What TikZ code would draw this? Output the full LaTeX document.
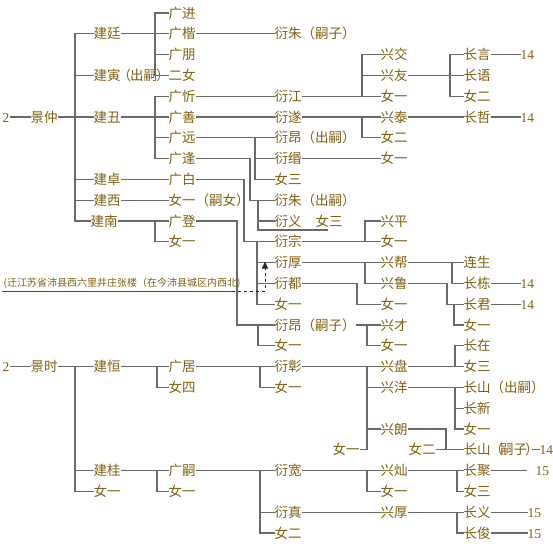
\documentclass[tikz,border=0pt]{standalone}
\usepackage{fontspec}
\setmainfont{Liberation Serif}
\newfontfamily\cjk{Noto Sans CJK SC}
\usetikzlibrary{arrows.meta}
\definecolor{txt}{RGB}{128,96,16}
\definecolor{lin}{RGB}{105,105,105}
\tikzset{
  t/.style={anchor=west, inner sep=0.5pt, text=txt, font=\cjk\fontsize{13.5}{14}\selectfont, text height=11.5pt, text depth=1.5pt},
  num/.style={anchor=west, inner sep=0.5pt, text=txt, font=\fontsize{13.5}{14}\selectfont, text height=11.5pt, text depth=1.5pt},
  notetxt/.style={anchor=west, inner sep=0.5pt, text=txt, font=\cjk\fontsize{10}{10}\selectfont},
  ln/.style={draw=lin, line width=1.1pt, line cap=rect},
  uline/.style={draw=black!70, line width=0.9pt},
  dashln/.style={draw=black!85, line width=1pt, dash pattern=on 3pt off 3pt},
}
\newcommand\barb[4]{% bar x, top node, bottom node, children
  \draw[ln] (#1,0 |- #2.west) -- (#1,0 |- #3.west);
  \foreach \c in {#4}{\draw[ln] (#1,0 |- \c.west) -- (\c.west);}
}
\newcommand\famb[5]{% parent, bar x, top, bottom, children
  \draw[ln] (#1.east) -- (#2,0 |- #1.east);
  \barb{#2}{#3}{#4}{#5}
}
\begin{document}
\begin{tikzpicture}[x=1pt, y=-20.8pt, yshift=-13pt]
\useasboundingbox (0,-0.625) rectangle (553,25.481);
% ---------- upper family ----------
\node[num] (two1) at (2,5) {2};
\node[t] (jz) at (30,5) {景仲};
\node[t] (jt) at (93,1) {建廷};
\node[t] (jy) at (93,3) {建寅\kern-3pt（\kern-1pt出嗣\kern-1pt）\kern-9pt};
\node[t] (jc) at (93,5) {建丑};
\node[t] (jzh) at (93,8) {建卓};
\node[t] (jx) at (93,9) {建西};
\node[t] (jn) at (90,10) {建南};
\node[t] (gj) at (168,0) {广进};
\node[t] (gk) at (168,1) {广楷};
\node[t] (gp) at (168,2) {广朋};
\node[t] (en) at (168,3) {二女};
\node[t] (gx) at (168,4) {广忻};
\node[t] (gs) at (168,5) {广善};
\node[t] (gy) at (168,6) {广远};
\node[t] (gf) at (168,7) {广逢};
\node[t] (gb) at (168,8) {广白};
\node[t] (sx) at (168,9) {女一（嗣女）};
\node[t] (gd) at (168,10) {广登};
\node[t] (gdn) at (168,11) {女一};
\node[t] (yz1) at (274,1) {衍朱（嗣子）};
\node[t] (yj) at (274,4) {衍江};
\node[t] (ys) at (274,5) {衍遂};
\node[t] (ya1) at (274,6) {衍昂（出嗣）};
\node[t] (ym) at (274,7) {衍缗};
\node[t] (yn3) at (274,8) {女三};
\node[t] (yz2) at (274,9) {衍朱（出嗣）};
\node[t] (yy) at (274,10) {衍义};
\node[t] (yyn) at (315,10) {女三};
\node[t] (yzo) at (274,11) {衍宗};
\node[t] (yh) at (274,12) {衍厚};
\node[t] (ydu) at (274,13) {衍都};
\node[t] (yn14) at (274,14) {女一};
\node[t] (ya2) at (274,15) {衍昂（嗣子）};
\node[t] (yn16) at (274,16) {女一};
\node[t] (xj) at (380,2) {兴交};
\node[t] (xy) at (380,3) {兴友};
\node[t] (xn4) at (380,4) {女一};
\node[t] (xt) at (380,5) {兴泰};
\node[t] (xn6) at (380,6) {女二};
\node[t] (xn7) at (380,7) {女一};
\node[t] (xp) at (380,10) {兴平};
\node[t] (xn11) at (380,11) {女一};
\node[t] (xb) at (380,12) {兴帮};
\node[t] (xl) at (380,13) {兴鲁};
\node[t] (xn14) at (380,14) {女一};
\node[t] (xc) at (380,15) {兴才};
\node[t] (xn16) at (380,16) {女一};
\node[t] (cy) at (463,2) {长言};
\node[t] (cyu) at (463,3) {长语};
\node[t] (cn4) at (463,4) {女二};
\node[t] (cz) at (463,5) {长哲};
\node[t] (cs) at (463,12) {连生};
\node[t] (cd) at (463,13) {长栋};
\node[t] (cj) at (463,14) {长君};
\node[t] (cn15) at (463,15) {女一};
\node[t] (cza) at (463,16) {长在};
\node[t] (cn17) at (463,17) {女三};
\node[num] (k1) at (520,2) {14};
\node[num] (k2) at (520,5) {14};
\node[num] (k3) at (520,13) {14};
\node[num] (k4) at (520,14) {14};
% ---------- lower family ----------
\node[num] (two2) at (2,17) {2};
\node[t] (js) at (30,17) {景时};
\node[t] (jh) at (93,17) {建恒};
\node[t] (jg) at (93,22) {建桂};
\node[t] (jgn) at (93,23) {女一};
\node[t] (gju) at (168,17) {广居};
\node[t] (gn4) at (168,18) {女四};
\node[t] (gsi) at (168,22) {广嗣};
\node[t] (gsn) at (168,23) {女一};
\node[t] (yzh) at (274,17) {衍彰};
\node[t] (yn18) at (274,18) {女一};
\node[t] (yk) at (274,22) {衍宽};
\node[t] (yzn) at (274,24) {衍真};
\node[t] (yn25) at (274,25) {女二};
\node[t] (xpa) at (380,17) {兴盘};
\node[t] (xya) at (380,18) {兴洋};
\node[t] (xla) at (380,20) {兴朗};
\node[t] (xn21) at (332,21) {女一};
\node[t] (en2) at (408,21) {女二};
\node[t] (xca) at (380,22) {兴灿};
\node[t] (xn23) at (380,23) {女一};
\node[t] (xh) at (380,24) {兴厚};
\node[t] (cs18) at (463,18) {长山（出嗣）};
\node[t] (cx) at (463,19) {长新};
\node[t] (cn20) at (463,20) {女一};
\node[t] (cs21) at (463,21) {长山\kern-1pt（\kern-3pt嗣子\kern-2pt）\kern-7pt};
\node[t] (cju) at (463,22) {长聚};
\node[t] (cn23) at (463,23) {女三};
\node[t] (cyi) at (463,24) {长义};
\node[t] (cjn) at (463,25) {长俊};
\node[num] (k5) at (539,21) {14};
\node[num] (f1) at (535,22) {15};
\node[num] (f2) at (527,24) {15};
\node[num] (f3) at (527,25) {15};
% ---------- note ----------
\node[notetxt] (note) at (3,13.01) {(迁江苏省沛县西六里井庄张楼（在今沛县城区内西北)};
\coordinate (ul) at (2,13.365);
\coordinate (ua) at (232,13.365);
\coordinate (atip) at (265,11.95);
\coordinate (yyu) at (327,10.43);
% ---------- connectors upper ----------
\draw[ln] (two1.east) -- (jz.west);
\famb{jz}{75}{jt}{jn}{jt,jy,jc,jzh,jx,jn}
\famb{jt}{155}{gj}{en}{gj,gk,gp,en}
\famb{jc}{155}{gx}{gf}{gx,gs,gy,gf}
\draw[ln] (jzh.east) -- (gb.west);
\draw[ln] (jx.east) -- (sx.west);
\famb{jn}{155}{gd}{gdn}{gd,gdn}
\draw[ln] (gk.east) -- (yz1.west);
\draw[ln] (gx.east) -- (yj.west);
\draw[ln] (gs.east) -- (ys.west);
\famb{gy}{255}{ya1}{yn3}{ya1,ym,yn3}
\draw[ln] (gf.east) -| (250,0 |- yz2.west) -- (yz2.west);
\draw[ln] (258,0 |- yz2.west) -- (258,0 |- yyu) -- (yyu);
\draw[ln] (258,0 |- yy.west) -- (yy.west);
\draw[ln] (gb.east) -| (244,0 |- yzo.west) -- (yzo.west);
\barb{257}{yzo}{yn14}{yh,ydu,yn14}
\draw[ln] (gd.east) -| (237,0 |- ya2.west) -- (ya2.west);
\barb{258}{ya2}{yn16}{yn16}
\famb{yj}{362}{xj}{xn4}{xj,xy,xn4}
\famb{xy}{450}{cy}{cn4}{cy,cyu,cn4}
\draw[ln] (cy.east) -- (k1.west);
\famb{ys}{362}{xt}{xn6}{xt,xn6}
\draw[ln] (xt.east) -- (cz.west);
\draw[ln] (cz.east) -- (k2.west);
\draw[ln] (ym.east) -- (xn7.west);
\famb{yzo}{365}{xp}{xn11}{xp,xn11}
\famb{yh}{365}{xb}{xl}{xb,xl}
\famb{xb}{452}{cs}{cd}{cs,cd}
\draw[ln] (cd.east) -- (k3.west);
\draw[ln] (ydu.east) -| (357,0 |- xn14.west) -- (xn14.west);
\draw[ln] (xl.east) -| (447,0 |- cj.west) -- (cj.west);
\barb{454}{cj}{cn15}{cn15}
\draw[ln] (cj.east) -- (k4.west);
\famb{ya2}{367}{xc}{xn16}{xc,xn16}
\famb{xpa}{455}{cza}{cn17}{cza,cn17}
% ---------- connectors lower ----------
\draw[ln] (two2.east) -- (js.west);
\famb{js}{75}{jh}{jgn}{jh,jg,jgn}
\famb{jh}{157}{gju}{gn4}{gju,gn4}
\famb{jg}{157}{gsi}{gsn}{gsi,gsn}
\famb{gju}{260}{yzh}{yn18}{yzh,yn18}
\famb{gsi}{260}{yk}{yn25}{yk,yzn,yn25}
\famb{yzh}{367}{xpa}{xn21}{xpa,xya,xla}
\draw[ln] (xn21.east) -- (367,0 |- xn21.east);
\famb{xya}{455}{cs18}{cn20}{cs18,cx,cn20}
\draw[ln] (xla.east) -| (446,0 |- cs21.west);
\draw[ln] (en2.east) -- (cs21.west);
\draw[ln] (cs21.east) -- (k5.west);
\famb{yk}{367}{xca}{xn23}{xca,xn23}
\famb{xca}{457}{cju}{cn23}{cju,cn23}
\draw[ln] (cju.east) -- ([xshift=-9pt]f1.west);
\draw[ln] (yzn.east) -- (xh.west);
\famb{xh}{457}{cyi}{cjn}{cyi,cjn}
\draw[ln] (cyi.east) -- (f2.west);
\draw[ln] (cjn.east) -- (f3.west);
% ---------- note line and arrow ----------
\draw[uline] (ul) -- (ua);
\draw[dashln, -{Triangle[length=7pt,width=6pt]}] (ua) -| (atip);
\end{tikzpicture}
\end{document}
